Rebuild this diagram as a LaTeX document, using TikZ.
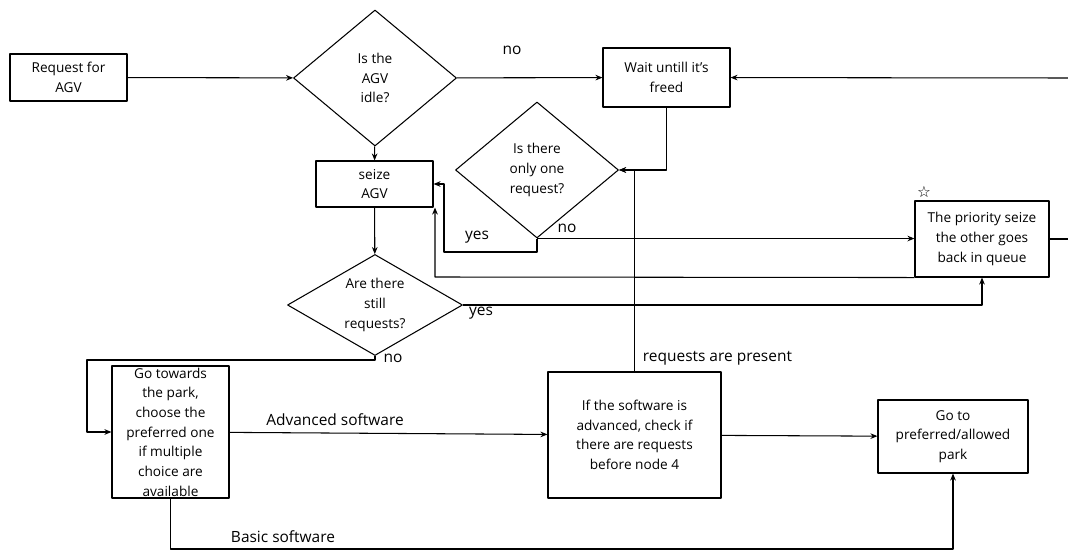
\documentclass[tikz,border=0pt]{standalone}
\usepackage{fontspec}
\setmainfont{Open Sans}
\newfontfamily\symbfont{DejaVu Sans}
\usetikzlibrary{shapes.geometric,arrows.meta}
\tikzset{
  procbox/.style={draw,rectangle,align=center,inner xsep=2pt,inner ysep=0pt,font=\fontsize{9.7}{14}\selectfont},
  decide/.style={draw,diamond,align=center,inner sep=0pt,aspect=1.2,font=\fontsize{9.7}{14}\selectfont},
  lbl/.style={inner sep=1pt,font=\fontsize{11}{13}\selectfont},
}
\begin{document}
\begin{tikzpicture}[x=.025cm,y=-.025cm,>={Stealth[length=5pt,width=4pt]},line width=.75pt,line join=round]
 \useasboundingbox (0,0) rectangle (1068,551);
 % boxes and decisions
 \node[procbox,minimum width=2.925cm,minimum height=1.175cm] (req) at (68.5,77.5) {Request for\\AGV};
 \node[decide,minimum width=4.075cm,minimum height=3.4cm] (idle) at (375,78) {Is the\\AGV\\idle?};
 \node[procbox,minimum width=3.175cm,minimum height=1.475cm] (wait) at (666.5,77.5) {Wait untill it's\\freed};
 \node[procbox,minimum width=2.925cm,minimum height=1.15cm] (seize) at (374.5,184) {seize\\AGV};
 \node[decide,minimum width=4.075cm,minimum height=3.4cm] (only) at (537,170) {Is there\\only one\\request?};
 \node[procbox,minimum width=3.35cm,minimum height=1.9cm] (prio) at (982,239) {The priority seize\\the other goes\\back in queue};
 \node[decide,aspect=1.7,minimum width=4.375cm,minimum height=2.525cm] (still) at (375,305) {Are there\\still\\requests?};
 \node[procbox,minimum width=2.925cm,minimum height=3.3cm] (go) at (170.5,432) {Go towards\\the park,\\choose the\\preferred one\\if multiple\\choice are\\available};
 \node[procbox,minimum width=4.325cm,minimum height=3.15cm] (check) at (634.5,435) {If the software is\\advanced, check if\\there are requests\\before node 4};
 \node[procbox,minimum width=3.75cm,minimum height=1.825cm] (park) at (953,436.5) {Go to\\preferred/allowed\\park};
 \node[inner sep=0pt,font=\symbfont\fontsize{11}{11}\selectfont] (star) at (924,192) {☆};
 % bends and free ends
 \coordinate (rin) at (1068,78); \coordinate (rout) at (1068,239);
 \coordinate (yesbend) at (444,252); \coordinate (backbend) at (435,277);
 \coordinate (nobend) at (87,360); \coordinate (basicbend) at (170.5,549);
 % connectors
 \draw[->] (req) -- (idle);
 \draw[->] (idle) -- (wait);
 \draw[->] (rin) -- (wait);
 \draw[->] (idle) -- (seize);
 \draw[->] (wait.south) |- (only.east);
 \draw[->] (check.north) |- (only.east);
 \draw[->] (only.south) |- (yesbend) |- (seize.east);
 \draw[->] (only.south) -- (only.south -| prio.west);
 \draw[->] (prio.south west) -- (backbend) -- (backbend |- seize.south);
 \draw (prio.east) -- (rout);
 \draw[->] (seize) -- (still);
 \draw[->] (still.east) -| (prio.south);
 \draw[->] (still.south) |- (nobend) |- (go.west);
 \draw[->] (go) -- (check);
 \draw[->] (check) -- (park);
 \draw[->] (go.south) -- (basicbend) -| (park.south);
 % labels
 \node[lbl] (no1) at (512,50) {no};
 \node[lbl] (yes1) at (477,237) {yes};
 \node[lbl] (no2) at (567,228) {no};
 \node[lbl] (yes2) at (481,313) {yes};
 \node[lbl] (no3) at (393,358) {no};
 \node[lbl,anchor=west] (present) at (641,358) {requests are present};
 \node[lbl] (adv) at (335,420) {Advanced software};
 \node[lbl] (basic) at (283,537) {Basic software};
\end{tikzpicture}
\end{document}
